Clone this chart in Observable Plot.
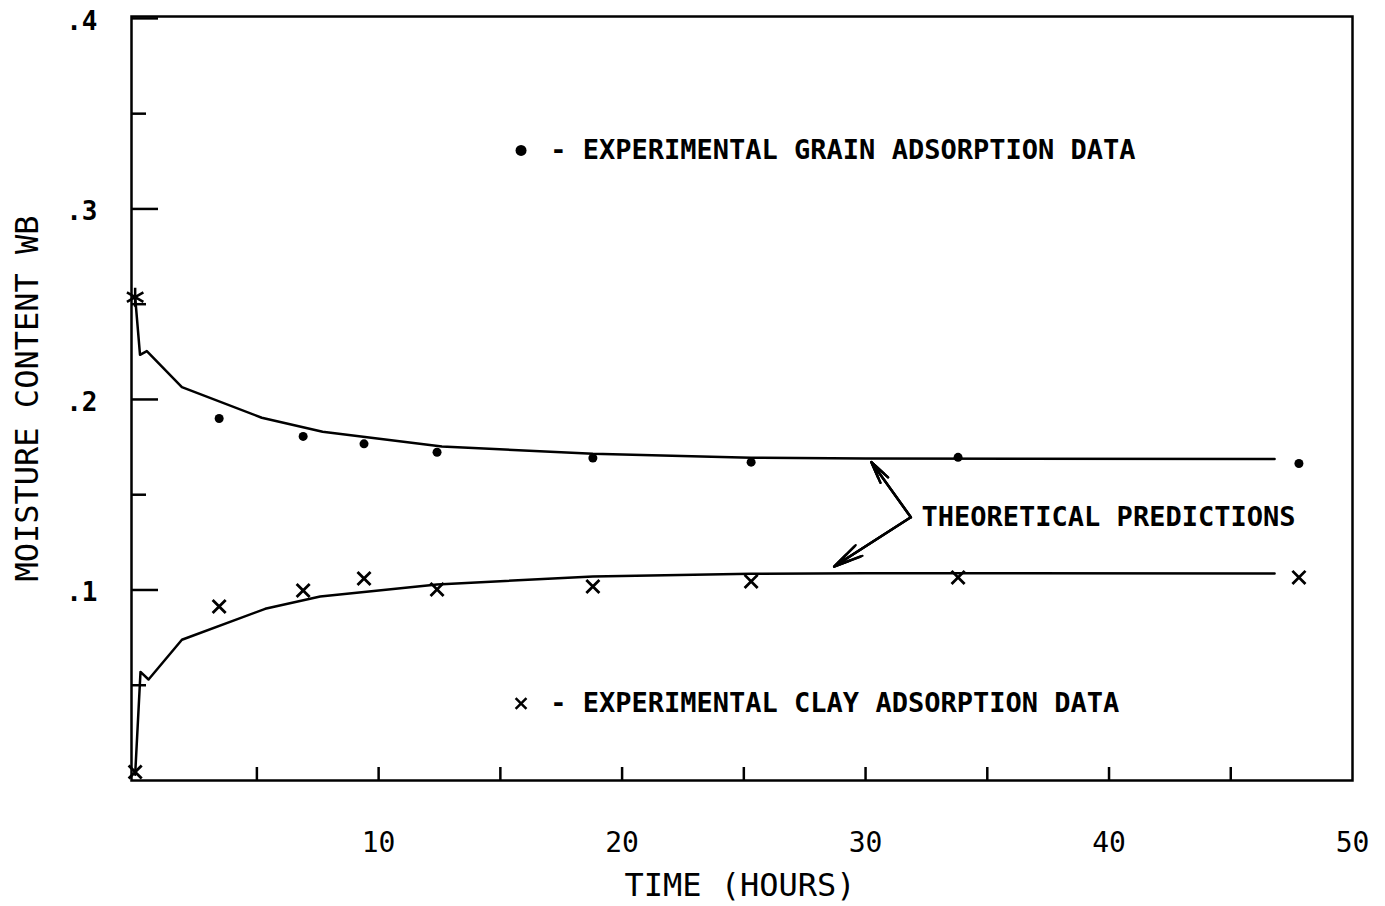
<!DOCTYPE html>
<html><head><meta charset="utf-8">
<script src="https://cdn.jsdelivr.net/npm/d3@7"></script>
<script src="https://cdn.jsdelivr.net/npm/@observablehq/plot@0.6"></script>
<style>body{margin:0;background:#fff;} #chart svg{display:block;}</style>
</head><body><div id="chart"></div>
<script>
// Experimental data (time in hours, moisture content wet basis)
const grainTimes = [3.45, 6.9, 9.4, 12.4, 18.8, 25.3, 33.8, 47.8];
const grainMoisture = [0.190, 0.1806, 0.1767, 0.1723, 0.1693, 0.1671, 0.1696, 0.1664];
const clayTimes = [3.45, 6.9, 9.4, 12.4, 18.8, 25.3, 33.8, 47.8];
const clayMoisture = [0.0913, 0.0997, 0.1060, 0.1003, 0.1018, 0.1045, 0.1066, 0.1066];
const grainInitialTime = [0];
const grainInitialMoisture = [0.2537];
const clayInitialTime = [0];
const clayInitialMoisture = [0.0045];
// Theoretical predictions
const grainTheoryTimes = [0, 0.2, 0.48, 1.92, 5.2, 7.7, 12.6, 18.8, 25.3, 30, 46.8];
const grainTheory = [0.2537, 0.2234, 0.2254, 0.2065, 0.1904, 0.1830, 0.1753, 0.1715, 0.1694, 0.1690, 0.1687];
const clayTheoryTimes = [0, 0.22, 0.55, 1.92, 5.34, 7.6, 12.4, 18.8, 25.3, 30, 46.8];
const clayTheory = [0.003, 0.057, 0.053, 0.0739, 0.0901, 0.0966, 0.1029, 0.1071, 0.1085, 0.1088, 0.1087];
// Axis ticks
const yMajorTicks = [0.1, 0.2, 0.3, 0.4];
const yMinorTicks = [0.05, 0.15, 0.25, 0.35];
const xTickMarks = [5, 10, 15, 20, 25, 30, 35, 40, 45];
const xTickLabels = [10, 20, 30, 40, 50];
// Annotations (data space)
const legendLabels = ["- EXPERIMENTAL GRAIN ADSORPTION DATA", "- EXPERIMENTAL CLAY ADSORPTION DATA"];
const legendTimes = [15.85, 15.85];
const legendMoisture = [0.3307, 0.0404];
const legendTextTimes = [17.05, 17.05];
const calloutLabel = ["THEORETICAL PREDICTIONS"];
const calloutTime = [32.3];
const calloutMoisture = [0.1382];
const arrowTipTimes = [30.24, 28.71];
const arrowTipMoisture = [0.1671, 0.1123];

const grain = grainTimes.map((t, i) => ({t, m: grainMoisture[i]}));
const clay = clayTimes.map((t, i) => ({t, m: clayMoisture[i]}));
const grainLine = grainTheoryTimes.map((t, i) => ({t, m: grainTheory[i]}));
const clayLine = clayTheoryTimes.map((t, i) => ({t, m: clayTheory[i]}));
const grainInit = grainInitialTime.map((t, i) => ({t, m: grainInitialMoisture[i]}));
const clayInit = clayInitialTime.map((t, i) => ({t, m: clayInitialMoisture[i]}));
const legend = legendLabels.map((s, i) => ({s, t: legendTimes[i], tt: legendTextTimes[i], m: legendMoisture[i]}));
const arrows = arrowTipTimes.map((t, i) => ({x1: calloutTime[0] - 0.44, y1: calloutMoisture[0], x2: t, y2: arrowTipMoisture[i]}));

const mono = "'DejaVu Sans Mono', monospace";
const arrowOpts = {x1: "x1", y1: "y1", x2: "x2", y2: "y2", stroke: "#000", headAngle: 24};
const chart = Plot.plot({
  width: 1385, height: 906,
  marginLeft: 131, marginRight: 33, marginTop: 16, marginBottom: 126,
  style: {fontFamily: mono, background: "#fff", color: "#000"},
  x: {domain: [-0.15, 50]},
  y: {domain: [0, 0.401]},
  marks: [
    Plot.frame({stroke: "#000", strokeWidth: 2.5}),
    Plot.axisY(yMajorTicks, {tickSize: -27, strokeWidth: 2.5, tickFormat: () => ""}),
    Plot.axisY(yMinorTicks, {tickSize: -15, strokeWidth: 2.5, tickFormat: () => ""}),
    Plot.axisY(yMajorTicks, {tickSize: 0, tickPadding: 34, dy: 3, fontSize: 26, fontWeight: "bold", tickFormat: d => "." + Math.round(d * 10)}),
    Plot.axisX(xTickMarks, {tickSize: -13, strokeWidth: 2.5, tickFormat: () => ""}),
    Plot.axisX(xTickLabels, {tickSize: 0, tickPadding: 52, fontSize: 28, tickFormat: d => String(d)}),
    Plot.text(["MOISTURE CONTENT WB"], {frameAnchor: "left", rotate: -90, dx: -104, fontSize: 32, textAnchor: "middle"}),
    Plot.text(["TIME (HOURS)"], {frameAnchor: "bottom", dy: 115, dx: -2, fontSize: 32, textAnchor: "middle"}),
    Plot.line(grainLine, {x: "t", y: "m", stroke: "#000", strokeWidth: 2.5}),
    Plot.line(clayLine, {x: "t", y: "m", stroke: "#000", strokeWidth: 2.5}),
    Plot.dot(grain, {x: "t", y: "m", r: 4.5, fill: "#000"}),
    Plot.dot(clay, {x: "t", y: "m", symbol: "times", r: 6, stroke: "#000", strokeWidth: 2.8}),
    Plot.dot(grainInit, {x: "t", y: "m", symbol: "asterisk", r: 9, stroke: "#000", strokeWidth: 2.5}),
    Plot.dot(clayInit, {x: "t", y: "m", symbol: "times", r: 6, stroke: "#000", strokeWidth: 2.8}),
    Plot.dot(legend.slice(0, 1), {x: "t", y: "m", r: 5.5, fill: "#000"}),
    Plot.dot(legend.slice(1), {x: "t", y: "m", symbol: "times", r: 5, stroke: "#000", strokeWidth: 2.5}),
    Plot.text(legend, {x: "tt", y: "m", text: "s", textAnchor: "start", fontSize: 27, fontWeight: "bold"}),
    Plot.text(calloutLabel, {x: calloutTime, y: calloutMoisture, text: d => d, textAnchor: "start", fontSize: 27, fontWeight: "bold"}),
    Plot.arrow(arrows, {...arrowOpts, strokeWidth: 2.2, headLength: 24}),
    Plot.arrow(arrows, {...arrowOpts, strokeWidth: 2.5, headLength: 17}),
    Plot.arrow(arrows, {...arrowOpts, strokeWidth: 2.5, headLength: 10})
  ]
});
document.getElementById("chart").append(chart);
</script>
</body></html>
